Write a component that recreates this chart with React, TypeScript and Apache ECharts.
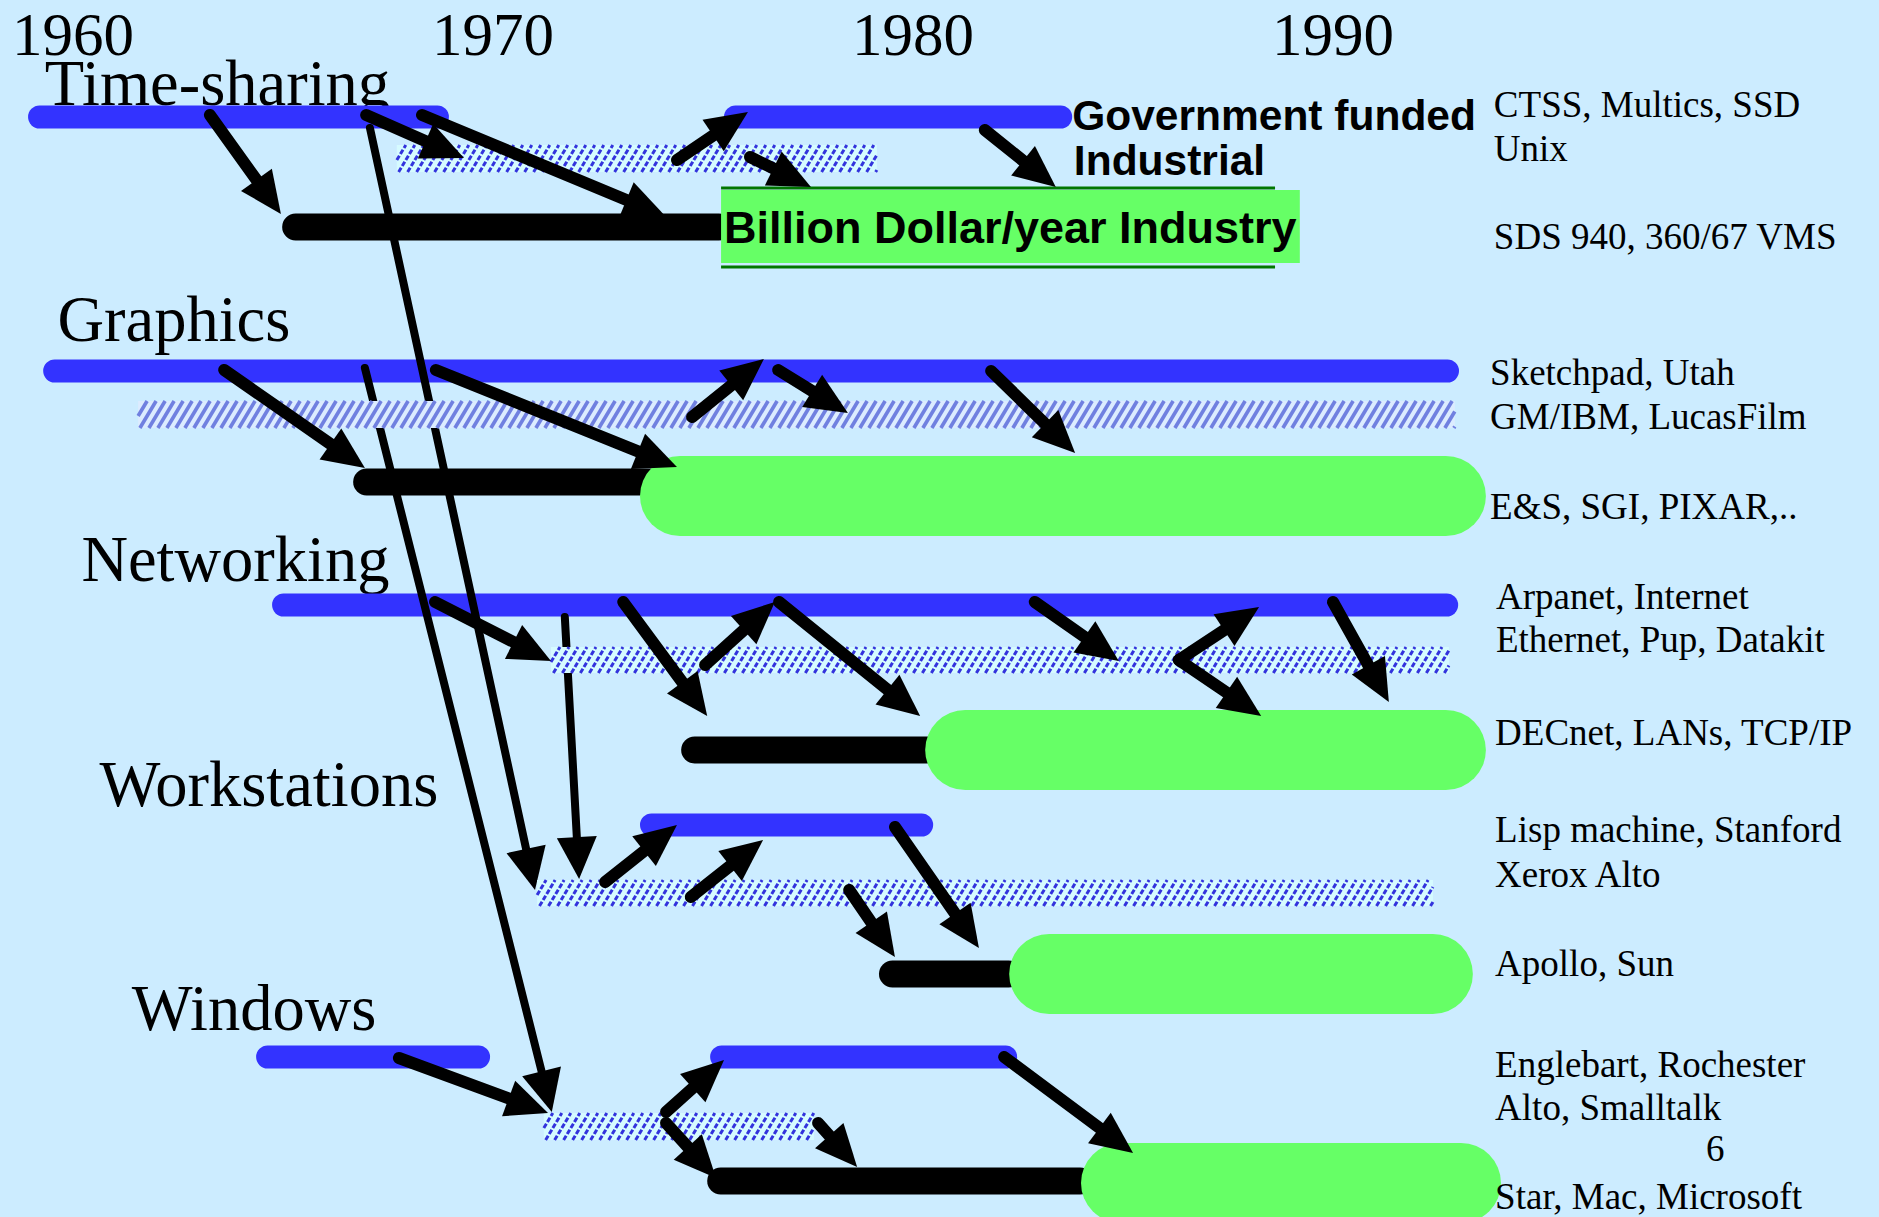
import React, { useEffect, useRef } from "react";
import * as echarts from "echarts";

// ---- tick labels (years) ----
const YEAR_MIN = 1960;
const YEAR_MAX = 1995;
const YEAR_STEP = 10;

// ---- row headings: [year, baselineLevel] ----
const headingNames = ["Time-sharing", "Graphics", "Networking", "Workstations", "Windows"];
const headingPos: number[][] = [
  [1959.33, 105],
  [1959.63, 341],
  [1960.2, 581],
  [1960.63, 806],
  [1961.4, 1030],
];

// ---- right-hand notes: [year, baselineLevel] ----
const noteTexts = [
  "CTSS, Multics, SSD",
  "Unix",
  "SDS 940, 360/67 VMS",
  "Sketchpad, Utah",
  "GM/IBM, LucasFilm",
  "E&S, SGI, PIXAR,..",
  "Arpanet, Internet",
  "Ethernet, Pup, Datakit",
  "DECnet, LANs, TCP/IP",
  "Lisp machine, Stanford",
  "Xerox Alto",
  "Apollo, Sun",
  "Englebart, Rochester",
  "Alto, Smalltalk",
  "Star, Mac, Microsoft",
];
const notePos: number[][] = [
  [1993.83, 117],
  [1993.83, 161],
  [1993.83, 249],
  [1993.74, 385],
  [1993.74, 429],
  [1993.74, 519],
  [1993.88, 609],
  [1993.88, 652],
  [1993.86, 745],
  [1993.86, 842],
  [1993.86, 887],
  [1993.86, 976],
  [1993.86, 1077],
  [1993.86, 1120],
  [1993.86, 1209],
];

// ---- bold legend labels ----
const boldTexts = ["Government funded", "Industrial"];
const boldPos: number[][] = [
  [1983.79, 130],
  [1983.83, 175],
];
const billionText = "Billion Dollar/year Industry";
const billionPos: number[][] = [[1975.5, 243]];
const pageNumber = ["6"];
const pagePos: number[][] = [[1999.1, 1161]];

// ---- bars: [startYear, endYear, level] ----
const govBars: number[][] = [
  [1958.93, 1968.95, 117],
  [1975.5, 1983.79, 117],
  [1959.29, 1993.0, 371],
  [1964.74, 1992.98, 605],
  [1973.5, 1980.48, 825],
  [1964.36, 1969.93, 1057],
  [1975.17, 1982.48, 1057],
];
const industryBars: number[][] = [
  [1964.98, 1975.7, 227],
  [1966.67, 1978.45, 482],
  [1974.48, 1980.8, 750],
  [1979.19, 1982.6, 974],
  [1975.1, 1984.3, 1181],
];
const billionBars: number[][] = [
  [1973.5, 1993.64, 496],
  [1980.29, 1993.64, 750],
  [1982.29, 1993.33, 974],
  [1984.0, 1994.0, 1183],
];
const legendBox: number[][] = [[1975.43, 1989.21, 226.5]];
const legendRules: number[][] = [
  [1975.43, 1988.62, 188],
  [1975.43, 1988.62, 267],
];

// ---- hatched bands: [startYear, endYear, topLevel, bottomLevel, kind] ----
const hatchBands: number[][] = [
  [1967.71, 1979.14, 145, 172, 0],
  [1961.55, 1992.9, 401, 428, 1],
  [1971.38, 1992.76, 647, 673, 0],
  [1971.05, 1992.38, 880, 906, 0],
  [1971.21, 1977.64, 1113, 1140, 0],
];

// ---- arrows: [fromYear, fromLevel, toYear, toLevel] ----
const arrows: number[][] = [
  [1963.26, 115, 1964.95, 214],
  [1966.98, 115, 1969.31, 158],
  [1968.31, 115, 1974.1, 216],
  [1974.38, 160, 1976.07, 112],
  [1976.12, 157, 1977.57, 187],
  [1981.71, 130, 1983.4, 187],
  [1963.6, 370, 1966.95, 468],
  [1968.64, 370, 1974.38, 467],
  [1974.74, 417, 1976.45, 359],
  [1976.79, 370, 1978.45, 413],
  [1981.86, 371, 1983.86, 453],
  [1968.62, 602, 1971.38, 661],
  [1973.1, 602, 1975.1, 716],
  [1975.05, 665, 1976.71, 602],
  [1976.81, 602, 1980.17, 716],
  [1982.9, 602, 1984.9, 661],
  [1986.33, 660, 1988.24, 607],
  [1986.33, 660, 1988.29, 716],
  [1990.0, 602, 1991.33, 702],
  [1972.67, 882, 1974.38, 825],
  [1974.71, 897, 1976.43, 840],
  [1979.57, 827, 1981.57, 948],
  [1978.48, 890, 1979.57, 957],
  [1967.76, 1058, 1971.31, 1113],
  [1974.12, 1112, 1975.5, 1060],
  [1974.12, 1123, 1975.31, 1178],
  [1977.74, 1123, 1978.67, 1167],
  [1982.17, 1057, 1985.24, 1153],
];
const longArrows: number[][] = [
  [1967.07, 128, 1971.0, 890],
  [1966.95, 368, 1971.4, 1112],
  [1971.71, 617, 1972.05, 879],
];

const BG = "#ccecff";
const BLUE = "#3333ff";
const GREEN = "#66ff66";
const SERIF = "'Liberation Serif', 'Times New Roman', serif";
const SANS = "'Liberation Sans', Arial, sans-serif";

const barRender = (thickness: number, color: string, radius: number) => (params: any, api: any) => {
  const p0 = api.coord([api.value(0), api.value(2)]);
  const p1 = api.coord([api.value(1), api.value(2)]);
  return {
    type: "rect",
    shape: { x: p0[0], y: p0[1] - thickness / 2, width: p1[0] - p0[0], height: thickness, r: radius },
    style: { fill: color },
  };
};

const ruleRender = (params: any, api: any) => {
  const p0 = api.coord([api.value(0), api.value(2)]);
  const p1 = api.coord([api.value(1), api.value(2)]);
  return {
    type: "line",
    shape: { x1: p0[0], y1: p0[1], x2: p1[0], y2: p1[1] },
    style: { stroke: "#007700", lineWidth: 3 },
  };
};

const hatchStyles = [
  { bg: "#d6fbff", stroke: "#3333dd", lw: 3, period: 9, dash: [5, 2] as number[] | null },
  { bg: "#dcecff", stroke: "#7080e0", lw: 3.6, period: 9, dash: null as number[] | null },
];

const hatchRender = (params: any, api: any) => {
  const a = api.coord([api.value(0), api.value(2)]);
  const b = api.coord([api.value(1), api.value(3)]);
  const st = hatchStyles[api.value(4)] || hatchStyles[0];
  const left = a[0], top = a[1], right = b[0], bottom = b[1];
  const h = bottom - top;
  const s = 0.6;
  const children: any[] = [
    { type: "rect", shape: { x: left, y: top, width: right - left, height: h }, style: { fill: st.bg } },
  ];
  for (let x = left - h * s; x < right; x += st.period) {
    let xa = x, ya = bottom, xb = x + h * s, yb = top;
    if (xa < left) {
      const t = (left - xa) / (h * s);
      xa = left;
      ya = bottom - t * h;
    }
    if (xb > right) {
      const t = (xb - right) / (h * s);
      xb = right;
      yb = top + t * h;
    }
    if (xb <= xa) continue;
    const style: any = { stroke: st.stroke, lineWidth: st.lw };
    if (st.dash) style.lineDash = st.dash;
    children.push({ type: "line", shape: { x1: xa, y1: ya, x2: xb, y2: yb }, style });
  }
  return { type: "group", children };
};

const arrowRender = (lw: number, headLen: number, headHalf: number) => (params: any, api: any) => {
  const p0 = api.coord([api.value(0), api.value(1)]);
  const p1 = api.coord([api.value(2), api.value(3)]);
  const dx = p1[0] - p0[0], dy = p1[1] - p0[1];
  const L = Math.hypot(dx, dy) || 1;
  const ux = dx / L, uy = dy / L;
  const bx = p1[0] - ux * headLen, by = p1[1] - uy * headLen;
  const nx = -uy, ny = ux;
  return {
    type: "group",
    children: [
      {
        type: "line",
        shape: { x1: p0[0], y1: p0[1], x2: bx + ux * 4, y2: by + uy * 4 },
        style: { stroke: "#000", lineWidth: lw, lineCap: "round" },
      },
      {
        type: "polygon",
        shape: {
          points: [
            [p1[0], p1[1]],
            [bx + nx * headHalf, by + ny * headHalf],
            [bx - nx * headHalf, by - ny * headHalf],
          ],
        },
        style: { fill: "#000" },
      },
    ],
  };
};

const textRender =
  (texts: string[], family: string, size: number, weight: string, align: string) =>
  (params: any, api: any) => {
    const p = api.coord([api.value(0), api.value(1)]);
    const offset = (family === SANS ? 0.347 : 0.3375) * size;
    return {
      type: "text",
      x: p[0],
      y: p[1] - offset,
      style: {
        text: texts[params.dataIndex],
        fontFamily: family,
        fontSize: size,
        fontWeight: weight,
        fill: "#000",
        align,
        verticalAlign: "middle",
      },
    };
  };

const custom = (data: number[][], renderItem: any, dims: { x: number[]; y: number[] }) => ({
  type: "custom",
  coordinateSystem: "cartesian2d",
  silent: true,
  clip: false,
  data,
  encode: dims,
  renderItem,
});

export default function App() {
  const ref = useRef<HTMLDivElement>(null);
  useEffect(() => {
    if (!ref.current) return;
    const chart = echarts.init(ref.current, undefined, { renderer: "svg" });
    chart.setOption({
      animation: false,
      backgroundColor: BG,
      grid: { left: 73, right: 336, top: 0, bottom: 0, outerBoundsMode: "none" },
      xAxis: {
        type: "value",
        position: "top",
        min: YEAR_MIN,
        max: YEAR_MAX,
        interval: YEAR_STEP,
        axisLine: { show: false },
        axisTick: { show: false },
        splitLine: { show: false },
        axisLabel: {
          inside: true,
          margin: 4,
          showMinLabel: true,
          showMaxLabel: false,
          fontFamily: SERIF,
          fontSize: 61,
          color: "#000",
          formatter: (v: number) => String(v),
        },
      },
      yAxis: { type: "value", inverse: true, min: 0, max: 1217, show: false },
      series: [
        custom(headingPos, textRender(headingNames, SERIF, 64.5, "normal", "left"), { x: [0], y: [1] }),
        custom(govBars, barRender(23, BLUE, 11.5), { x: [0, 1], y: [2] }),
        custom(industryBars, barRender(27, "#000", 13.5), { x: [0, 1], y: [2] }),
        custom(billionBars, barRender(80, GREEN, 40), { x: [0, 1], y: [2] }),
        custom(legendBox, barRender(73, GREEN, 0), { x: [0, 1], y: [2] }),
        custom(legendRules, ruleRender, { x: [0, 1], y: [2] }),
        custom(longArrows, arrowRender(8, 42, 20), { x: [0, 2], y: [1, 3] }),
        custom(hatchBands, hatchRender, { x: [0, 1], y: [2, 3] }),
        custom(arrows, arrowRender(12, 42, 19), { x: [0, 2], y: [1, 3] }),
        custom(notePos, textRender(noteTexts, SERIF, 37, "normal", "left"), { x: [0], y: [1] }),
        custom(boldPos, textRender(boldTexts, SANS, 42.5, "bold", "left"), { x: [0], y: [1] }),
        custom(billionPos, textRender([billionText], SANS, 45, "bold", "left"), { x: [0], y: [1] }),
        custom(pagePos, textRender(pageNumber, SERIF, 37, "normal", "center"), { x: [0], y: [1] }),
      ],
    });
    return () => chart.dispose();
  }, []);
  return (
    <div
      ref={ref}
      style={{ position: "fixed", left: 0, top: 0, width: 1879, height: 1217 }}
    />
  );
}
